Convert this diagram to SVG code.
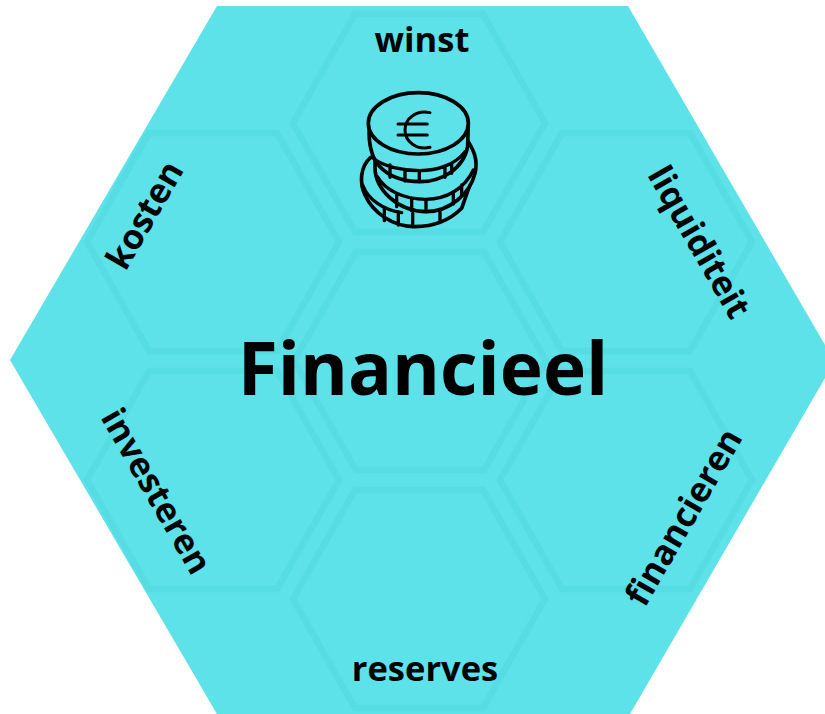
<svg xmlns="http://www.w3.org/2000/svg" width="825" height="714" viewBox="0 0 825 714">
<style>
.h{fill:none;stroke:#55dde3;stroke-width:6.500;stroke-linejoin:miter}
.l{font-family:"Open Sans","Noto Sans",sans-serif;font-weight:700;font-size:34.500px;fill:#000;text-anchor:middle}
.t{font-family:"Open Sans","Noto Sans",sans-serif;font-weight:700;font-size:73px;fill:#000;text-anchor:middle}
.c{fill:#5ce2e8;stroke:#000;stroke-width:11;stroke-linejoin:round;stroke-linecap:round}
.s{fill:none;stroke:#000;stroke-width:10;stroke-linecap:round}
</style>
<defs><polygon id="hx" class="h" points="-126,0 -64,-109 64,-109 126,0 64,109 -64,109"/></defs>
<g id="background"><path d="M217,6H628L825,345V378L630,714H217L10,360Z" fill="#5ce2e8"/></g>
<g id="hex-center"><use href="#hx" x="420" y="361"/></g>
<g id="hex-winst"><use href="#hx" x="419" y="123"/></g>
<g id="hex-kosten"><use href="#hx" x="213" y="242"/></g>
<g id="hex-liquiditeit"><use href="#hx" x="626" y="242"/></g>
<g id="hex-investeren"><use href="#hx" x="213" y="480"/></g>
<g id="hex-financieren"><use href="#hx" x="626" y="480"/></g>
<g id="hex-reserves"><use href="#hx" x="419" y="599"/></g>
<g id="coins" transform="translate(340,80) scale(.3333)">
<path class="c" d="M92,232C60,260 58,310 75,345C100,400 160,440 225,440C280,440 330,420 365,385L395,300L300,220Z"/>
<path class="s" d="M68,315C85,360 130,390 185,398M133,382V422M175,395V435M218,400V440M300,395L300,422"/>
<path class="c" d="M105,262C105,330 175,395 258,395C330,395 390,340 405,280C415,240 400,210 385,185L105,200Z"/>
<path class="s" d="M112,290C135,330 190,358 258,358C320,358 375,325 400,270M170,345V380M215,355V392M258,358V395M340,335V372M365,315V345"/>
<path class="c" d="M88,140C85,190 95,230 115,255C150,295 200,305 240,305C300,305 370,270 383,200L385,130Z"/>
<path class="s" d="M100,235C130,260 190,272 240,272C290,272 345,255 375,215M150,255V292M195,268V303M238,272V305M315,262V292M335,250V280"/>
<ellipse class="c" cx="235" cy="130" rx="150" ry="92"/>
<path class="s" d="M270,98C230,88 195,115 195,150C195,185 230,212 270,202M174,132H262M174,165H262" style="stroke-width:9"/>
</g>
<g id="labels">
<text class="t" x="423" y="395">Financieel</text>
<text class="l" x="422" y="52">winst</text>
<text class="l" x="425" y="681">reserves</text>
<text class="l" transform="translate(155,221) rotate(-60)">kosten</text>
<text class="l" transform="translate(689,248) rotate(60)">liquiditeit</text>
<text class="l" transform="translate(146,497) rotate(60)">investeren</text>
<text class="l" transform="translate(694,523) rotate(-60)">financieren</text>
</g>
</svg>
